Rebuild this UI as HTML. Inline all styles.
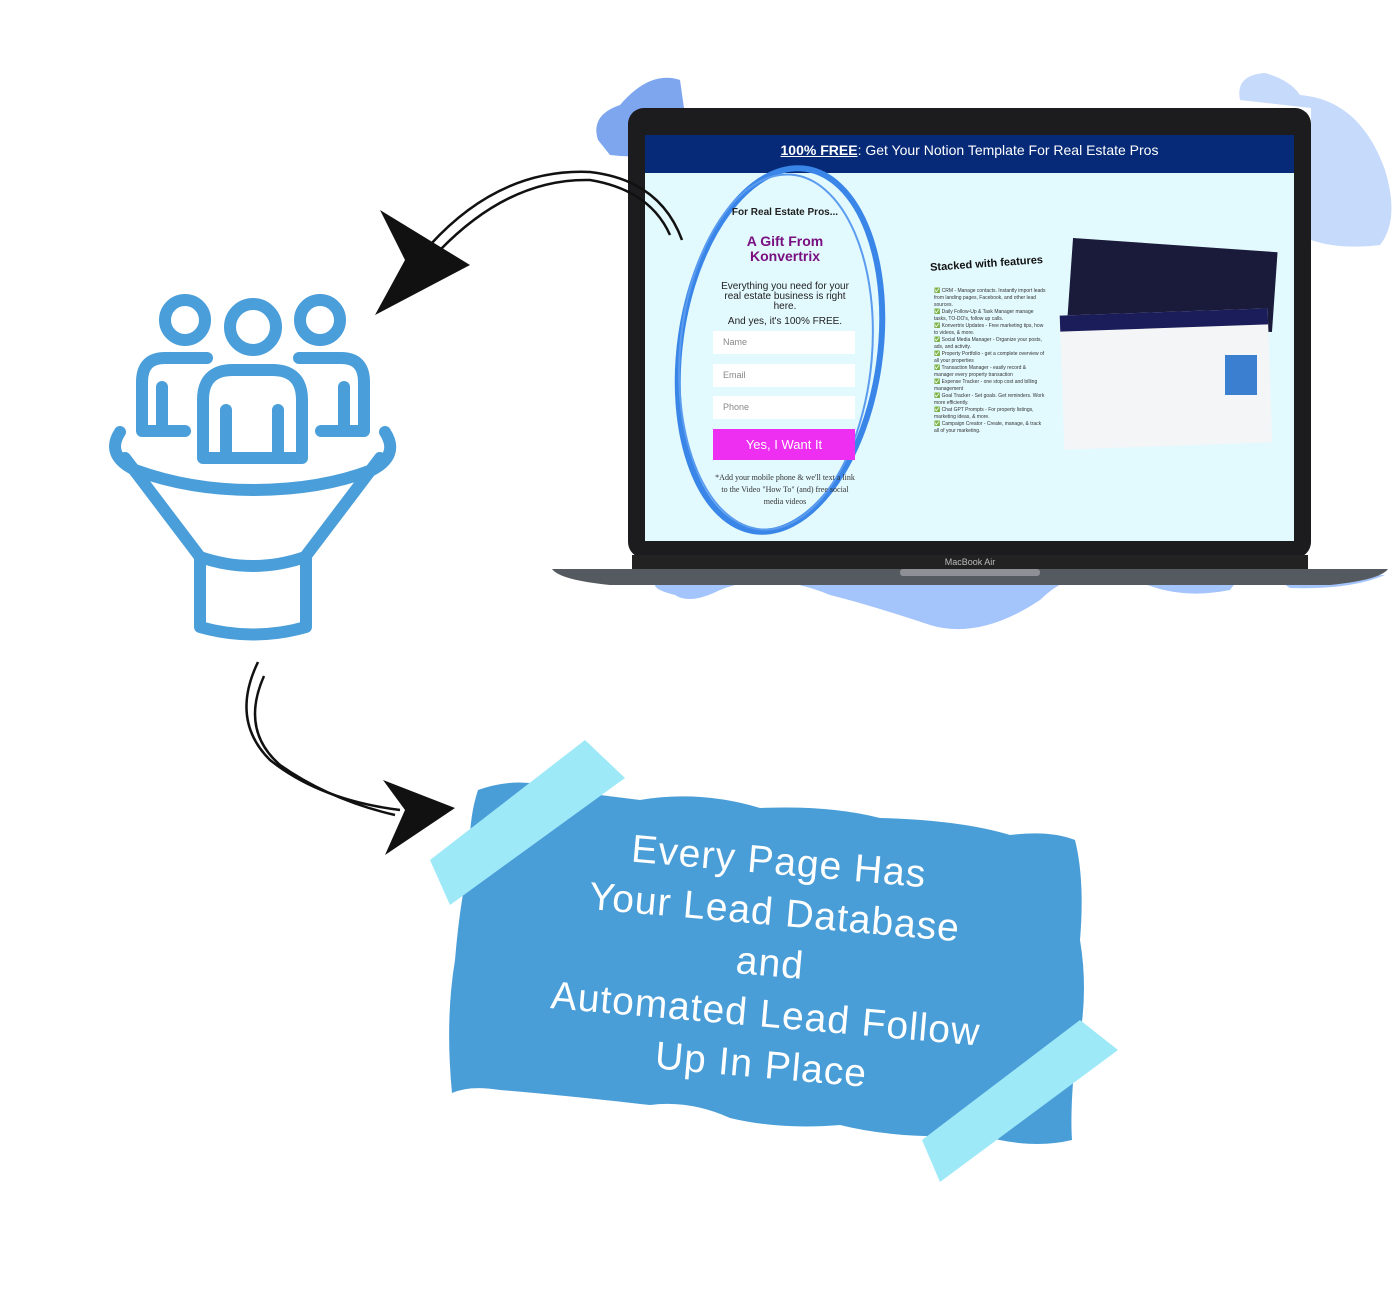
<!DOCTYPE html>
<html><head><meta charset="utf-8"><style>
body{margin:0;width:1400px;height:1300px;background:#fff;overflow:hidden;position:relative;font-family:"Liberation Sans",sans-serif}
.abs{position:absolute}
</style></head><body>
<svg class="abs" style="left:0;top:0" width="1400" height="1300">
<!-- blobs -->
<path d="M1240 100 Q1235 75 1265 73 Q1290 80 1300 95 Q1360 100 1385 170 Q1400 220 1380 245 Q1340 250 1311 240 L1311 108 Z" fill="#c6dafb"/>
<path d="M655 585 L1385 575 Q1350 590 1290 588 Q1250 560 1230 590 Q1180 600 1140 582 Q1080 560 1040 600 Q980 640 930 625 Q870 605 830 595 Q770 570 720 590 Q690 605 675 595 Q655 590 655 585 Z" fill="#a4c4fc"/>
<path d="M598 140 Q590 115 620 105 Q650 70 680 80 L690 150 Q650 160 610 155 Z" fill="#7ea6ef"/>
<!-- laptop -->
<rect x="628" y="108" width="683" height="450" rx="16" fill="#1c1c1e"/>
<rect x="645" y="135" width="649" height="406" fill="#e2f9fe"/>
<rect x="645" y="135" width="649" height="38" fill="#062a78"/>
<rect x="632" y="555" width="676" height="14" fill="#222"/>
<path d="M552 569 L1388 569 Q1380 580 1330 585 L610 585 Q560 580 552 569 Z" fill="#555a60"/>
<rect x="900" y="569" width="140" height="7" rx="3" fill="#8d9095"/>
<!-- oval sketch -->
<ellipse cx="780" cy="350" rx="100" ry="183" transform="rotate(8 780 350)" fill="none" stroke="#3a86e8" stroke-width="6"/>
<ellipse cx="776" cy="352" rx="96" ry="178" transform="rotate(5 776 352)" fill="none" stroke="#5b9cef" stroke-width="2"/>
<!-- arrows -->
<g fill="none" stroke="#111" stroke-width="2.5">
<path d="M682 240 Q660 180 590 172 Q500 168 430 245"/>
<path d="M670 235 Q650 190 590 180 Q510 178 440 250"/>
<path d="M258 662 Q230 720 270 760 Q320 800 400 810"/>
<path d="M264 676 Q240 730 280 765 Q330 800 395 815"/>
</g>
<polygon points="380,210 470,265 375,315 405,260" fill="#111"/>
<polygon points="383,780 455,808 385,855 405,810" fill="#111"/>
<!-- funnel icon -->
<g fill="none" stroke="#4a9ed9" stroke-width="12" stroke-linecap="round" stroke-linejoin="round">
<circle cx="185" cy="320" r="20"/><circle cx="253" cy="327" r="23"/><circle cx="320" cy="320" r="20"/>
<path d="M203 458 V400 Q203 370 233 370 H272 Q302 370 302 400 V458 Z M226 410 V458 M278 410 V458"/>
<path d="M207 358 H165 Q142 358 142 382 V431 H185 M162 387 V431"/>
<path d="M299 358 H341 Q364 358 364 382 V431 H321 M344 387 V431"/>
<path d="M120 432 Q105 455 135 470 Q190 490 253 490 Q320 490 372 470 Q400 455 385 432"/>
<path d="M125 458 L200 557 Q253 575 305 557 L380 458"/>
<path d="M200 557 V627 Q253 642 306 627 V557"/>
</g>
<!-- banner -->
<path d="M478 790 Q520 775 560 790 L640 800 Q700 790 760 808 Q830 805 880 818 Q960 820 1010 835 Q1050 830 1075 840 Q1085 880 1080 940 Q1090 1000 1075 1060 Q1070 1110 1072 1140 Q1030 1150 980 1135 Q900 1140 840 1125 Q780 1130 730 1118 Q690 1100 650 1105 Q560 1095 500 1090 Q470 1085 452 1093 Q445 1020 455 960 Q460 900 470 860 Q468 820 478 790 Z" fill="#4a9ed8"/>
<polygon points="430,860 585,740 625,778 450,905" fill="#9ee9f8"/>
<polygon points="922,1140 1080,1020 1118,1050 940,1182" fill="#9ee9f8"/>
</svg>
<!-- laptop screen content -->
<div class="abs" style="left:645px;top:142px;width:649px;text-align:center;color:#fff;font-size:14px"><span style="text-decoration:underline;font-weight:bold">100% FREE</span>: Get Your Notion Template For Real Estate Pros</div>
<div class="abs" style="left:700px;top:207px;width:170px;text-align:center;font-size:10px;font-weight:bold;color:#222">For Real Estate Pros...</div>
<div class="abs" style="left:700px;top:234px;width:170px;text-align:center;font-size:14px;font-weight:bold;color:#7a1080;line-height:15px">A Gift From<br>Konvertrix</div>
<div class="abs" style="left:712px;top:282px;width:146px;text-align:center;font-size:10px;color:#222;line-height:10px">Everything you need for your real estate business is right here.<br><span style="line-height:20px">And yes, it's 100% FREE.</span></div>
<div class="abs" style="left:713px;top:331px;width:142px;height:23px;background:#fff;font-size:9px;color:#888;line-height:23px;text-indent:10px">Name</div>
<div class="abs" style="left:713px;top:364px;width:142px;height:23px;background:#fff;font-size:9px;color:#888;line-height:23px;text-indent:10px">Email</div>
<div class="abs" style="left:713px;top:396px;width:142px;height:23px;background:#fff;font-size:9px;color:#888;line-height:23px;text-indent:10px">Phone</div>
<div class="abs" style="left:713px;top:429px;width:142px;height:31px;background:#ee2ef0;font-size:13px;color:#fff;line-height:31px;text-align:center">Yes, I Want It</div>
<div class="abs" style="left:712px;top:472px;width:146px;text-align:center;font-size:8px;color:#333;line-height:12px;font-family:'Liberation Serif',serif">*Add your mobile phone &amp; we'll text a link to the Video "How To" (and) free social media videos</div>
<div class="abs" style="left:930px;top:258px;font-size:11px;font-weight:bold;color:#111;transform:rotate(-4deg)">Stacked with features</div>
<div class="abs" style="left:934px;top:288px;width:112px;font-size:5px;color:#333;line-height:7px">
✅ CRM - Manage contacts. Instantly import leads from landing pages, Facebook, and other lead sources.<br>✅ Daily Follow-Up &amp; Task Manager manage tasks, TO-DO's, follow up calls.<br>✅ Konvertrix Updates - Free marketing tips, how to videos, &amp; more.<br>✅ Social Media Manager - Organize your posts, ads, and activity.<br>✅ Property Portfolio - get a complete overview of all your properties<br>✅ Transaction Manager - easily record &amp; manager every property transaction<br>✅ Expense Tracker - one stop cost and billing management<br>✅ Goal Tracker - Set goals. Get reminders. Work more efficiently.<br>✅ Chat GPT Prompts - For property listings, marketing ideas, &amp; more.<br>✅ Campaign Creator - Create, manage, &amp; track all of your marketing.</div>
<div class="abs" style="left:1070px;top:245px;width:205px;height:80px;background:#1a1a3a;transform:rotate(4deg)"></div>
<div class="abs" style="left:1062px;top:312px;width:208px;height:118px;background:#f4f5f7;border-top:16px solid #1b1d5a;transform:rotate(-2deg)"></div>
<div class="abs" style="left:1225px;top:355px;width:32px;height:40px;background:#3a7fd0"></div>
<div class="abs" style="left:632px;top:557px;width:676px;text-align:center;font-size:9px;color:#bbb">MacBook Air</div>
<!-- banner text -->
<div class="abs" style="left:470px;top:836px;width:600px;text-align:center;color:#fff;font-size:39px;line-height:51px;letter-spacing:1px;transform:rotate(5deg);transform-origin:center">Every Page Has<br>Your Lead Database<br>and<br>Automated Lead Follow<br>Up In Place</div>
</body></html>
